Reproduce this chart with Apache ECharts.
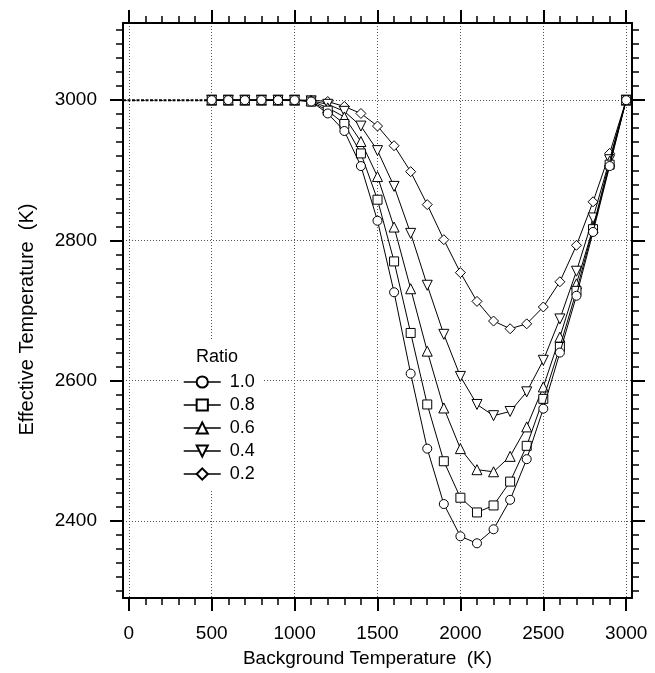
<!DOCTYPE html>
<html>
<head>
<meta charset="utf-8">
<script src="https://cdn.jsdelivr.net/npm/echarts@6/dist/echarts.min.js"></script>
<style>
    html, body { margin: 0; padding: 0; background: #fff; }
    #chart { width: 655px; height: 673px; }
</style>
</head>
<body>
<div id="chart"></div>
<script>
// background temperature (K) where the points sit
const bgTemps = [500, 600, 700, 800, 900, 1000, 1100, 1200, 1300, 1400, 1500, 1600, 1700,
    1800, 1900, 2000, 2100, 2200, 2300, 2400, 2500, 2600, 2700, 2800, 2900, 3000];

// effective temperature (K) per ratio
const ratio10 = [3000, 3000, 3000, 3000, 3000, 3000, 2998, 2981, 2956, 2906, 2828, 2726, 2610,
    2503, 2424, 2378, 2368, 2388, 2430, 2488, 2560, 2640, 2721, 2812, 2906, 3000];
const ratio08 = [3000, 3000, 3000, 3000, 3000, 3000, 2998, 2985, 2966, 2924, 2858, 2770, 2668,
    2566, 2485, 2433, 2412, 2422, 2456, 2507, 2574, 2648, 2728, 2816, 2908, 3000];
const ratio06 = [3000, 3000, 3000, 3000, 3000, 3000, 2999, 2989, 2976, 2941, 2891, 2819, 2731,
    2642, 2561, 2503, 2473, 2470, 2492, 2534, 2591, 2662, 2738, 2818, 2913, 3000];
const ratio04 = [3000, 3000, 3000, 3000, 3000, 3000, 2999, 2994, 2984, 2963, 2928, 2877, 2810,
    2736, 2666, 2606, 2566, 2550, 2556, 2584, 2629, 2688, 2756, 2832, 2915, 3000];
const ratio02 = [3000, 3000, 3000, 3000, 3000, 3000, 3000, 2998, 2991, 2981, 2963, 2935, 2898,
    2851, 2801, 2754, 2713, 2685, 2674, 2681, 2705, 2741, 2793, 2855, 2924, 3000];

// below 500 K every curve stays at 3000 K (dotted lead-in)
const leadTemps = [-35, 500];
const leadValues = [3000, 3000];

const ratioNames = ['1.0', '0.8', '0.6', '0.4', '0.2'];
const ratioSymbols = ['circle', 'rect', 'triangle', 'triangle', 'diamond'];
const ratioRotate = [0, 0, 0, 180, 0];
const ratioSizes = [9, 9, 10, 10, 10];
const ratioValues = [ratio10, ratio08, ratio06, ratio04, ratio02];

// axis ticks
const xMajor = [0, 500, 1000, 1500, 2000, 2500, 3000];
const yMajor = [2400, 2600, 2800, 3000];
const xMinor = [];
for (let v = 0; v <= 3000; v += 100) xMinor.push(v);
const yMinor = [];
for (let v = 2300; v <= 3100; v += 20) yMinor.push(v);

const X_MIN = -35, X_MAX = 3035;
const Y_MIN = 2290, Y_MAX = 3110;

const FONT = "'Liberation Sans', Arial, Helvetica, sans-serif";

var pairs = (xs, ys) => xs.map((x, i) => [x, ys[i]]);

var majorAxis = (pos, ticks, min, max, extra) => Object.assign({
    type: 'value',
    position: pos,
    min: min,
    max: max,
    axisLine: { show: true, onZero: false, lineStyle: { color: '#000', width: 2 } },
    axisTick: { show: true, inside: false, customValues: ticks, length: 13, lineStyle: { color: '#000', width: 2 } },
    axisLabel: { show: false },
    splitLine: { show: false },
    minorTick: { show: false }
}, extra);

var minorAxis = (pos, ticks, min, max) => ({
    type: 'value',
    position: pos,
    min: min,
    max: max,
    axisLine: { show: false, onZero: false },
    axisTick: { show: true, inside: false, customValues: ticks, length: 7, lineStyle: { color: '#000', width: 1.5 } },
    axisLabel: { show: false },
    splitLine: { show: false }
});

var gridLine = { show: true, lineStyle: { color: '#555', width: 1, type: [1, 2] } };
var plainNumber = (v) => String(v);

var chart = echarts.init(document.getElementById('chart'));

var series = ratioNames.map((name, i) => ({
    name: name,
    type: 'line',
    xAxisIndex: 0,
    yAxisIndex: 0,
    data: pairs(bgTemps, ratioValues[i]),
    symbol: ratioSymbols[i],
    symbolRotate: ratioRotate[i],
    symbolSize: ratioSizes[i],
    showAllSymbol: true,
    lineStyle: { color: '#000', width: 1 },
    itemStyle: { color: '#fff', borderColor: '#000', borderWidth: 1 },
    emphasis: { disabled: true },
    z: 10 - i
}));

series.push({
    name: 'lead',
    type: 'line',
    xAxisIndex: 0,
    yAxisIndex: 0,
    data: pairs(leadTemps, leadValues),
    symbol: 'none',
    lineStyle: { color: '#000', width: 2, type: [3, 1.5] },
    emphasis: { disabled: true },
    z: 1
});

chart.setOption({
    animation: false,
    backgroundColor: '#fff',
    textStyle: { fontFamily: FONT, color: '#000' },
    grid: { left: 123, top: 23, width: 509, height: 580, containLabel: false },
    title: {
        text: 'Ratio',
        left: 180,
        top: 340,
        padding: [8, 18, 4, 16],
        backgroundColor: '#fff',
        textStyle: { fontFamily: FONT, fontSize: 18, fontWeight: 'normal', color: '#000' }
    },
    legend: {
        data: ratioNames,
        orient: 'vertical',
        left: 178,
        top: 368,
        padding: [5, 8, 8, 5],
        backgroundColor: '#fff',
        itemWidth: 37,
        itemHeight: 14,
        itemGap: 5,
        selectedMode: false,
        lineStyle: { width: 1.5 },
        textStyle: { fontFamily: FONT, fontSize: 18, color: '#000', padding: [0, 0, 0, 4] }
    },
    xAxis: [
        majorAxis('bottom', xMajor, X_MIN, X_MAX, {
            axisLabel: { show: true, customValues: xMajor, margin: 26, fontSize: 19, color: '#000', fontFamily: FONT, formatter: plainNumber },
            splitLine: gridLine,
            name: 'Background Temperature  (K)',
            nameLocation: 'middle',
            nameGap: 51,
            nameTextStyle: { fontFamily: FONT, fontSize: 19, color: '#000', padding: [0, 20, 0, 0] }
        }),
        minorAxis('bottom', xMinor, X_MIN, X_MAX),
        majorAxis('top', xMajor, X_MIN, X_MAX),
        minorAxis('top', xMinor, X_MIN, X_MAX)
    ],
    yAxis: [
        majorAxis('left', yMajor, Y_MIN, Y_MAX, {
            axisLabel: { show: true, customValues: yMajor, margin: 26, fontSize: 19, color: '#000', fontFamily: FONT, formatter: plainNumber },
            splitLine: gridLine,
            name: 'Effective Temperature  (K)',
            nameLocation: 'middle',
            nameGap: 86,
            nameTextStyle: { fontFamily: FONT, fontSize: 20, color: '#000', padding: [0, 18, 0, 0] }
        }),
        minorAxis('left', yMinor, Y_MIN, Y_MAX),
        majorAxis('right', yMajor, Y_MIN, Y_MAX),
        minorAxis('right', yMinor, Y_MIN, Y_MAX)
    ],
    series: series
});
</script>
</body>
</html>
